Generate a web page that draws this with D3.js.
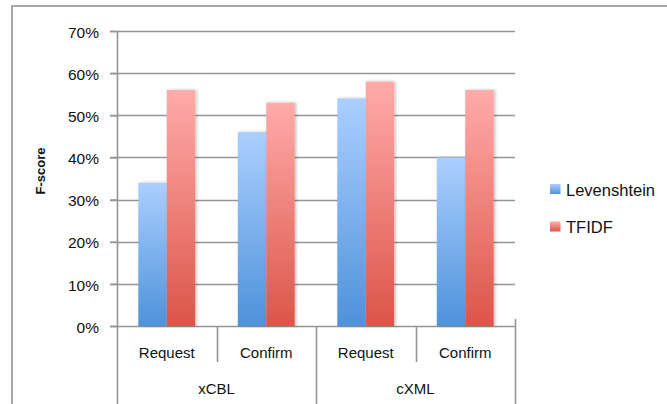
<!DOCTYPE html>
<html>
<head>
<meta charset="utf-8">
<script src="https://cdn.jsdelivr.net/npm/d3@7"></script>
<style>
  html, body { margin: 0; padding: 0; background: #fff; }
  svg { display: block; font-family: "Liberation Sans", Arial, sans-serif; }
</style>
</head>
<body>
<svg id="chart" width="667" height="404"></svg>
<script>
// F-score by document type and message, two matching methods
const groups = ["xCBL", "cXML"];
const subCategories = ["Request", "Confirm", "Request", "Confirm"];
const seriesNames = ["Levenshtein", "TFIDF"];
const levenshtein = [0.34, 0.46, 0.54, 0.40];
const tfidf = [0.56, 0.53, 0.58, 0.56];
const yTicks = [0, 0.1, 0.2, 0.3, 0.4, 0.5, 0.6, 0.7];

const seriesValues = [levenshtein, tfidf];
const rows = subCategories.map((c, i) => ({
  key: i, label: c, group: groups[Math.floor(i / 2)],
  values: seriesNames.map((s, j) => ({ series: s, value: seriesValues[j][i] }))
}));

const svg = d3.select("#chart");
const plotLeft = 117, plotRight = 515, plotTop = 31, plotBottom = 326;

const x0 = d3.scaleBand().domain(rows.map(r => r.key)).range([plotLeft, plotRight]).padding(0);
const bw = x0.bandwidth();
// gap width 150%: two bars plus 1.5 bar widths of space per category
const x1 = d3.scaleBand().domain(seriesNames).range([bw * 1.5 / 7, bw * 5.5 / 7]).padding(0);
const y = d3.scaleLinear().domain([0, 0.7]).range([plotBottom, plotTop]);

const defs = svg.append("defs");
const gradColors = {
  Levenshtein: ["#abcfff", "#4e92da"],
  TFIDF: ["#ffabaa", "#dc5549"]
};
seriesNames.forEach((s, i) => {
  const g = defs.append("linearGradient").attr("id", "grad" + i)
    .attr("x1", 0).attr("y1", 0).attr("x2", 0).attr("y2", 1);
  g.append("stop").attr("offset", "0%").attr("stop-color", gradColors[s][0]);
  g.append("stop").attr("offset", "100%").attr("stop-color", gradColors[s][1]);
});
const shadow = defs.append("filter").attr("id", "shadow")
  .attr("x", "-20%").attr("y", "-5%").attr("width", "150%").attr("height", "110%");
shadow.append("feDropShadow").attr("dx", 1.5).attr("dy", 0).attr("stdDeviation", 1.5)
  .attr("flood-color", "#000").attr("flood-opacity", 0.25);

// outer chart frame
svg.append("path")
  .attr("d", "M12,404 L12,6 L667,6")
  .attr("fill", "none").attr("stroke", "#a6a6a6").attr("stroke-width", 2);

// horizontal gridlines
svg.append("g").selectAll("line").data(yTicks).join("line")
  .attr("x1", plotLeft - 7).attr("x2", plotRight)
  .attr("y1", d => Math.round(y(d)) + 0.5).attr("y2", d => Math.round(y(d)) + 0.5)
  .attr("stroke", "#959595").attr("stroke-width", 1.6);

// y axis
const yAxis = svg.append("g").attr("transform", `translate(${plotLeft},0)`)
  .call(d3.axisLeft(y).tickValues(yTicks).tickFormat(d3.format(".0%"))
    .tickSize(7).tickPadding(11));
yAxis.select(".domain").attr("stroke", "#959595").attr("stroke-width", 1.6)
  .attr("d", `M0.5,${plotTop}V${plotBottom + 1}`);
yAxis.selectAll(".tick line").attr("stroke", "#959595").attr("stroke-width", 1.6);
yAxis.selectAll(".tick text").attr("font-size", 15.5).attr("fill", "#111")
  .attr("font-family", "Liberation Sans, Arial, sans-serif").attr("dy", "0.4em");

// y axis title
svg.append("text")
  .attr("transform", "translate(44.5,171) rotate(-90)")
  .attr("text-anchor", "middle")
  .attr("font-size", 13).attr("font-weight", "bold").attr("fill", "#111")
  .text("F-score");

// bars
const cat = svg.append("g").selectAll("g").data(rows).join("g")
  .attr("transform", d => `translate(${x0(d.key)},0)`);
cat.selectAll("rect").data(d => d.values).join("rect")
  .attr("x", d => x1(d.series))
  .attr("y", d => y(d.value))
  .attr("width", x1.bandwidth())
  .attr("height", d => y(0) - y(d.value))
  .attr("fill", d => `url(#grad${seriesNames.indexOf(d.series)})`)
  .attr("filter", "url(#shadow)");

// two-level category axis
const sep = svg.append("g").attr("stroke", "#959595").attr("stroke-width", 1.6);
rows.forEach((r, i) => {
  const xs = Math.round(x0(r.key)) + 0.5;
  const outer = i % 2 === 0;
  sep.append("line").attr("x1", xs).attr("x2", xs)
    .attr("y1", plotBottom).attr("y2", outer ? 404 : 362);
});
sep.append("line").attr("x1", plotRight + 0.5).attr("x2", plotRight + 0.5)
  .attr("y1", plotBottom - 7).attr("y2", 404);

svg.append("g").selectAll("text").data(rows).join("text")
  .attr("x", d => x0(d.key) + bw / 2)
  .attr("y", 357.5)
  .attr("text-anchor", "middle").attr("font-size", 15).attr("fill", "#111")
  .text(d => d.label);

svg.append("g").selectAll("text").data(groups).join("text")
  .attr("x", (d, i) => x0(i * 2) + bw)
  .attr("y", 393.5)
  .attr("text-anchor", "middle").attr("font-size", 15).attr("fill", "#111")
  .text(d => d);

// legend
const legend = svg.append("g").selectAll("g").data(seriesNames).join("g")
  .attr("transform", (d, i) => `translate(550,${184 + i * 37.5})`);
legend.append("rect").attr("width", 10.5).attr("height", 10)
  .attr("fill", (d, i) => `url(#grad${i})`);
legend.append("text").attr("x", 16).attr("y", 11.8)
  .attr("font-size", 16.5).attr("fill", "#111")
  .text(d => d);
</script>
</body>
</html>
